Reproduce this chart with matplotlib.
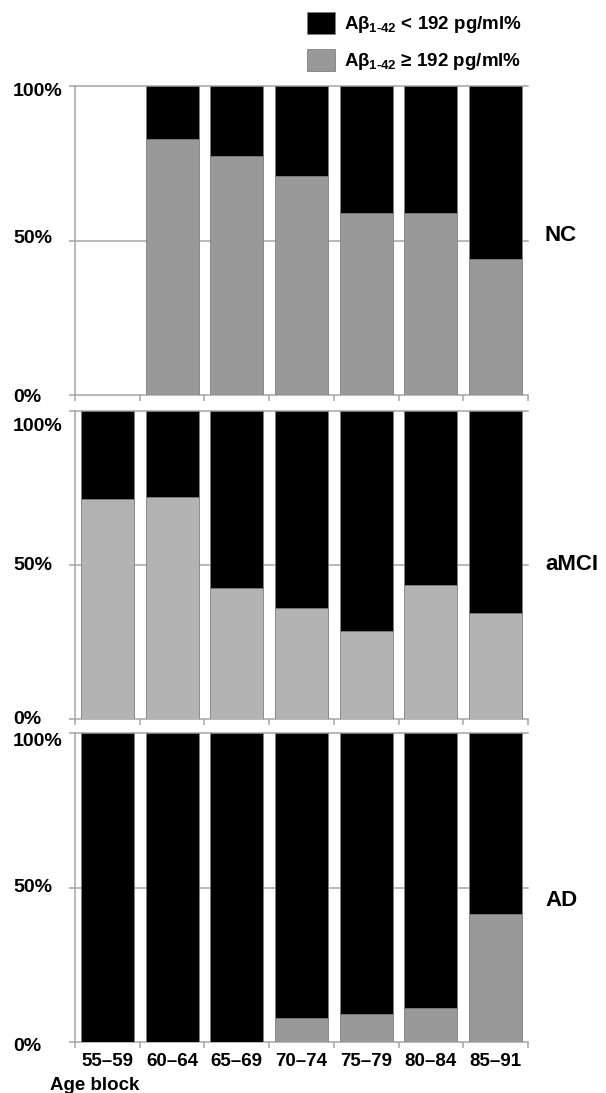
import numpy as np
import matplotlib
matplotlib.use('Agg')
import matplotlib.pyplot as plt
import matplotlib.transforms as mtransforms
from matplotlib.patches import Patch

plt.rcParams['font.family'] = ['Liberation Sans', 'DejaVu Sans']
plt.rcParams['font.weight'] = 'bold'
plt.rcParams['mathtext.fontset'] = 'custom'
plt.rcParams['mathtext.rm'] = 'Liberation Sans:bold'
plt.rcParams['mathtext.it'] = 'Liberation Sans:bold'
plt.rcParams['mathtext.bf'] = 'Liberation Sans:bold'

# data: percentage with Abeta1-42 >= 192 pg/ml (gray part), rest is < 192 (black part)
age_blocks = ['55\u201359', '60\u201364', '65\u201369', '70\u201374', '75\u201379', '80\u201384', '85\u201391']
groups = ['NC', 'aMCI', 'AD']
nc_high = [np.nan, 83, 77.5, 71, 59, 59, 44]
amci_high = [71.5, 72, 42.5, 36, 28.5, 43.5, 34.5]
ad_high = [0, 0, 0, 8, 9, 11, 41.5]
yticks = [0, 50, 100]
ytick_labels = ['0%', '50%', '100%']

lab_low = r'A$\beta_{1\text{-}42}$ < 192 pg/ml%'
lab_high = 'A$\\beta_{1\\text{-}42}$ \u2265 192 pg/ml%'

high_all = [nc_high, amci_high, ad_high]
gray_cols = ['#999999', '#b3b3b3', '#999999']
label_dy = [0.515, 0.5, 0.46]
# vertical pixel shift (down) of the 0/50/100 labels in each panel
ylab_shift = [[2, -2, 6], [0, 0, 16], [4, 0, 8]]

W, H = 606, 1093
fig = plt.figure(figsize=(W / 100, H / 100), dpi=100)

# panel boxes in pixels (top, bottom)
boxes = [(86, 395), (410.7, 719.3), (733.3, 1042.3)]
x0, x1 = 75, 528
grid_c = '#a6a6a6'
edge_c = '#7f7f7f'

x = np.arange(len(age_blocks))
for k, (top, bot) in enumerate(boxes):
    ax = fig.add_axes([x0 / W, 1 - bot / H, (x1 - x0) / W, (bot - top) / H])
    high = np.array(high_all[k], dtype=float)
    ok = ~np.isnan(high)
    low = 100 - high
    ax.bar(x[ok], high[ok], width=0.82, color=gray_cols[k], edgecolor=edge_c, linewidth=0.6, zorder=3)
    ax.bar(x[ok], low[ok], bottom=high[ok], width=0.82, color='black', edgecolor=edge_c, linewidth=0.6, zorder=3)
    ax.set_xlim(-0.5, len(age_blocks) - 0.5)
    ax.set_ylim(0, 100)
    for yv in [50, 100]:
        ax.axhline(yv, color=grid_c, lw=1.1, zorder=1, clip_on=False)
    for s in ['top', 'right']:
        ax.spines[s].set_visible(False)
    for s in ['left', 'bottom']:
        ax.spines[s].set_color(grid_c)
        ax.spines[s].set_linewidth(1.1)
    ax.set_yticks(yticks)
    ax.set_yticklabels([])
    ax.tick_params(axis='y', length=4, color=grid_c, width=1.1)
    trans = mtransforms.blended_transform_factory(fig.transFigure, ax.transData)
    for j, (yv, lab) in enumerate(zip(yticks, ytick_labels)):
        off = mtransforms.ScaledTranslation(0, -ylab_shift[k][j] / 100, fig.dpi_scale_trans)
        ax.text(13 / W, yv, lab, transform=trans + off, ha='left', va='center',
                fontsize=14, fontweight='bold')
    ax.set_xticks(np.arange(-0.5, len(age_blocks)), minor=False)
    ax.set_xticklabels([])
    ax.tick_params(axis='x', which='major', length=4, color=grid_c, width=1.1)
    if k == 2:
        ax.set_xticks(x, minor=True)
        ax.set_xticklabels(age_blocks, minor=True, fontsize=13.5, fontweight='bold')
        ax.tick_params(axis='x', which='minor', length=0, pad=8)
    ax.text(1.0375, label_dy[k], groups[k], transform=ax.transAxes, ha='left', va='center',
            fontsize=16, fontweight='bold')

fig.text(50 / W, 1 - 1085 / H, 'Age block', ha='left', va='center', fontsize=13.5, fontweight='bold')

handles = [Patch(facecolor='black', edgecolor=edge_c, linewidth=0.6),
           Patch(facecolor='#999999', edgecolor=edge_c, linewidth=0.6)]
fig.legend(handles, [lab_low, lab_high], loc='upper left', bbox_to_anchor=(307 / W, 1 - 12 / H),
           frameon=False, borderpad=0, borderaxespad=0, handlelength=1.5, handleheight=1.4,
           handletextpad=0.45, labelspacing=0.75, prop={'size': 13.5, 'weight': 'bold'})

fig.savefig('out.png', dpi=100)
